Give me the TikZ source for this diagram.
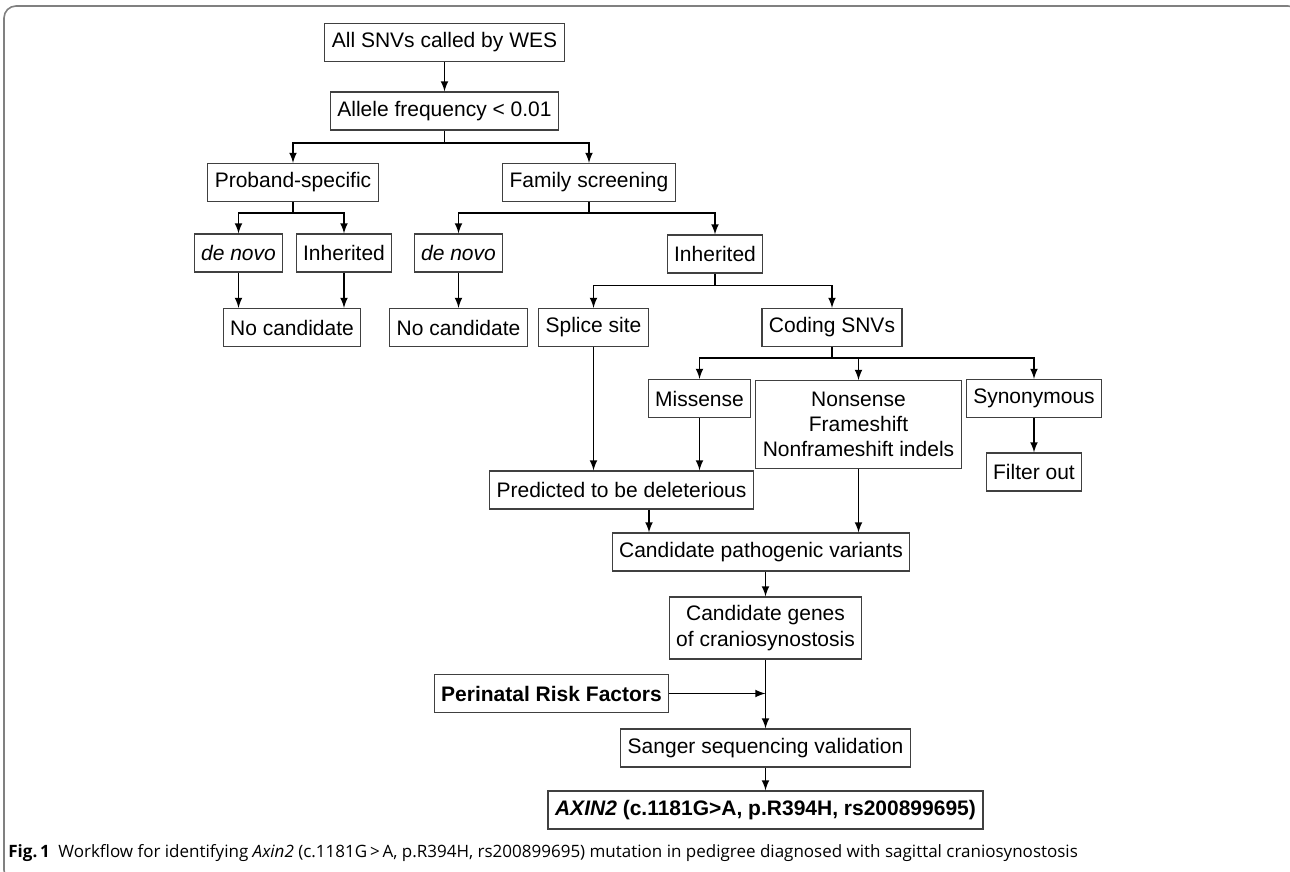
\documentclass[tikz,border=0pt]{standalone}
\usepackage{fontspec}
\setmainfont{Liberation Sans}
\newfontfamily\capfont{Open Sans}
\begin{document}
\begin{tikzpicture}
	[
	x=0.5pt, y=-0.5pt, >=latex,
	font=\fontsize{10.5}{12.6}\selectfont,
	%Voreinstellung für Kästen und Pfeile
	box/.style={draw=black!75, line width=0.6pt, minimum height=19pt, inner xsep=3.5pt, align=center},
	link/.style={->, line width=0.75pt},
	stem/.style={line width=0.75pt}
	]
	\useasboundingbox (0,0) rectangle (1290,872);
	%Rahmen
	\draw[black!50, line width=0.8pt, rounded corners=6pt] (4,6) rectangle (1300,882);
	
	%Start
	\node[box] (all) at (444.5,42.5) {All SNVs called by WES};
	\node[box] (allele) at (444.5,111) {Allele frequency < 0.01};
	\node[box] (proband) at (293,182.5) {Proband-specific};
	\node[box] (family) at (589,182.5) {Family screening};
	
	%Proband
	\node[box] (dn1) at (238.5,253) {\textit{de novo}};
	\node[box] (inh1) at (344,253) {Inherited};
	\node[box] (nc1) at (292,327.5) {No candidate};
	
	%Familie
	\node[box] (dn2) at (458.5,253) {\textit{de novo}};
	\node[box] (inh2) at (715,254) {Inherited};
	\node[box] (nc2) at (458.5,327.5) {No candidate};
	\node[box] (splice) at (593.5,327.5) {Splice site};
	\node[box] (coding) at (832,327.5) {Coding SNVs};
	\node[box] (miss) at (699.5,398.5) {Missense};
	\node[box, minimum height=44pt, anchor=north] (nons) at (858.5,380) {Nonsense\\Frameshift\\Nonframeshift indels};
	\node[box] (syn) at (1034,398.5) {Synonymous};
	\node[box] (filt) at (1034,472) {Filter out};
	
	%Kandidaten
	\node[box] (pred) at (621.5,490) {Predicted to be deleterious};
	\node[box] (cand) at (761,552) {Candidate pathogenic variants};
	\node[box, minimum height=31pt] (genes) at (765.5,628) {Candidate genes\\of craniosynostosis};
	\node[box, font=\fontsize{10.5}{12.6}\selectfont\bfseries] (peri) at (551.5,693.5) {Perinatal Risk Factors};
	\node[box] (sanger) at (765.5,748) {Sanger sequencing validation};
	\node[box, font=\fontsize{10.5}{12.6}\selectfont\bfseries] (axin) at (765.5,810) {\textit{AXIN2} (c.1181G>A, p.R394H, rs200899695)};
	
	%Verzweigungen
	\coordinate (k1) at (444.5,143);
	\coordinate (k2) at (293,213);
	\coordinate (k3) at (589,213);
	\coordinate (k4) at (715,285.5);
	\coordinate (k5) at (832,358);
	
	%Pfeile
	\draw[link] (all) -- (allele);
	\draw[stem] (allele) -- (k1);
	\draw[link] (k1) -| (proband);
	\draw[link] (k1) -| (family);
	\draw[stem] (proband) -- (k2);
	\draw[link] (k2) -| (dn1);
	\draw[link] (k2) -| (inh1);
	\draw[stem] (family) -- (k3);
	\draw[link] (k3) -| (dn2);
	\draw[link] (k3) -| (inh2);
	\draw[link] (dn1) -- (dn1 |- nc1.north);
	\draw[link] (inh1) -- (inh1 |- nc1.north);
	\draw[link] (dn2) -- (nc2);
	\draw[stem] (inh2) -- (k4);
	\draw[link] (k4) -| (splice);
	\draw[link] (k4) -| (coding);
	\draw[stem] (coding) -- (k5);
	\draw[link] (k5) -| (miss);
	\draw[link] (k5) -| (nons);
	\draw[link] (k5) -| (syn);
	\draw[link] (syn) -- (filt);
	\draw[link] (splice) -- (splice |- pred.north);
	\draw[link] (miss) -- (miss |- pred.north);
	\draw[link] ([xshift=13.75pt]pred.south) -- ([xshift=13.75pt]pred.south |- cand.north);
	\draw[link] (nons) -- (nons |- cand.north);
	\draw[link] (genes |- cand.south) -- (genes);
	\draw[link] (genes) -- (sanger);
	\draw[link] (peri) -- (peri -| genes);
	\draw[link] (sanger) -- (axin);
	
	%Legende
	\node[anchor=base west, inner sep=0pt, font=\capfont\fontsize{8.5}{10}\selectfont] (caption) at (8,857)
		{\textbf{Fig.\,1}\enspace Workflow for identifying \textit{Axin2} (c.1181G\,>\,A, p.R394H, rs200899695) mutation in pedigree diagnosed with sagittal craniosynostosis};
\end{tikzpicture}
\end{document}
